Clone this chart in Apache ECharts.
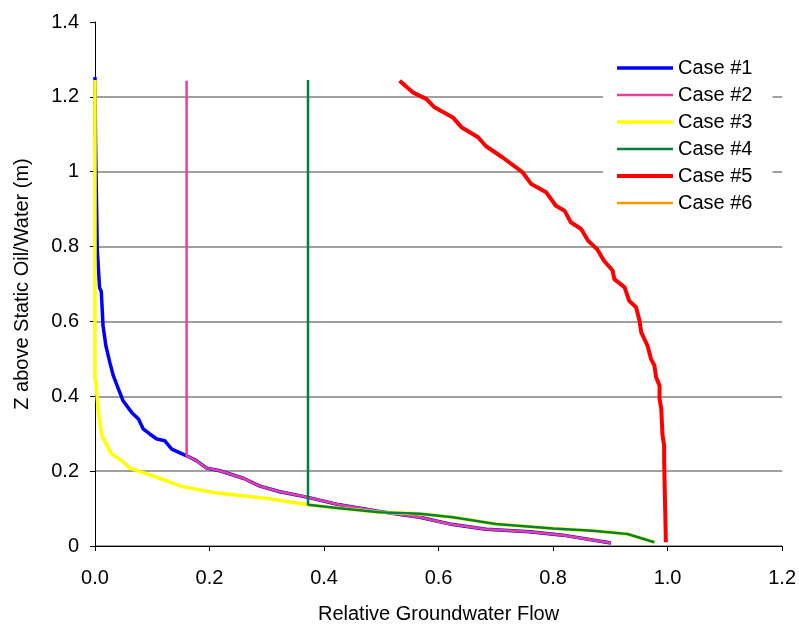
<!DOCTYPE html>
<html>
<head>
<meta charset="utf-8">
<script src="https://cdn.jsdelivr.net/npm/echarts@6/dist/echarts.min.js"></script>
<style>
html,body{margin:0;padding:0;background:#fff;}
#main{width:799px;height:629px;}
</style>
</head>
<body>
<div id="main"></div>
<script>
var names = ['Case #1','Case #2','Case #3','Case #4','Case #5','Case #6'];
var colors = ['#0000ff','#e8409a','#ffff00','#008040','#ff0000','#ff9900'];
var widths = [3.5,2.5,3.5,2.5,4,2.5];

// x = relative flow, y = height (m)
var case1X = [0.000,0.001,0.004,0.004,0.007,0.008,0.011,0.014,0.019,0.026,0.032,0.041,0.049,0.064,0.076,0.084,0.095,0.108,0.122,0.134,0.160,0.177,0.195,0.218,0.259,0.288,0.323,0.372,0.427,0.497,0.567,0.619,0.683,0.759,0.817,0.901];
var case1Y = [1.253,1.070,1.065,0.790,0.785,0.690,0.680,0.589,0.535,0.490,0.455,0.419,0.388,0.357,0.339,0.313,0.300,0.286,0.281,0.259,0.241,0.228,0.208,0.201,0.181,0.160,0.145,0.130,0.110,0.092,0.077,0.059,0.045,0.038,0.029,0.008];

var case2X = [0.160,0.160,0.177,0.195,0.218,0.259,0.288,0.323,0.372,0.427,0.497,0.567,0.619,0.683,0.759,0.817,0.901];
var case2Y = [1.243,0.241,0.228,0.208,0.201,0.181,0.160,0.145,0.130,0.110,0.092,0.077,0.059,0.045,0.038,0.029,0.008];

var case3X = [0.000,0.000,0.002,0.003,0.006,0.012,0.029,0.047,0.061,0.113,0.150,0.206,0.305,0.372,0.427,0.497,0.567,0.625,0.700,0.800,0.869,0.930,0.977];
var case3Y = [1.245,0.450,0.430,0.410,0.358,0.295,0.246,0.228,0.208,0.181,0.160,0.143,0.126,0.110,0.101,0.090,0.086,0.077,0.059,0.047,0.041,0.032,0.010];

var case4X = [0.372,0.372,0.427,0.497,0.567,0.625,0.700,0.800,0.869,0.930,0.977];
var case4Y = [1.245,0.110,0.101,0.090,0.086,0.077,0.059,0.047,0.041,0.032,0.010];

var case5X = [0.532,0.555,0.579,0.593,0.625,0.640,0.669,0.683,0.712,0.747,0.762,0.788,0.805,0.820,0.831,0.849,0.861,0.877,0.889,0.904,0.907,0.925,0.933,0.945,0.951,0.954,0.965,0.971,0.977,0.980,0.986,0.986,0.989,0.991,0.994,0.994,0.997];
var case5Y = [1.243,1.212,1.194,1.172,1.145,1.119,1.092,1.068,1.038,0.998,0.967,0.945,0.909,0.896,0.865,0.847,0.816,0.793,0.762,0.736,0.713,0.691,0.655,0.638,0.602,0.571,0.535,0.500,0.482,0.451,0.428,0.393,0.366,0.299,0.268,0.228,0.010];

// case 6 shows in the legend only
var case6X = [];
var case6Y = [];

var xs = [case1X,case2X,case3X,case4X,case5X,case6X];
var ys = [case1Y,case2Y,case3Y,case4Y,case5Y,case6Y];

function pairs(a,b){
	var out = [];
	for(var i=0;i<a.length;i++){
		out.push([a[i],b[i]]);
	}
	return out;
}

var series = [];
var legendData = [];
for(var i=0;i<names.length;i++){
	series.push({
		name:names[i],
		type:'line',
		data:pairs(xs[i],ys[i]),
		showSymbol:false,
		symbol:'none',
		animation:false,
		color:colors[i],
		lineStyle:{color:colors[i],width:widths[i]}
	});
	legendData.push({name:names[i],lineStyle:{color:colors[i],width:widths[i]}});
}

var font = 'Liberation Sans, Arial, sans-serif';
var myChart = echarts.init(document.getElementById('main'));
var option = {
	backgroundColor:'#fff',
	animation:false,
	grid:{left:95,right:16,top:22,bottom:82},
	legend:{
		orient:'vertical',
		left:603,
		top:54,
		itemWidth:56,
		itemHeight:14,
		itemGap:7,
		padding:[4,20,6,12],
		backgroundColor:'#fff',
		itemStyle:{opacity:0},
		textStyle:{fontFamily:font,fontSize:20,color:'#000'},
		data:legendData
	},
	xAxis:{
		type:'value',
		min:0,max:1.2,interval:0.2,
		name:'Relative Groundwater Flow',
		nameLocation:'middle',
		nameGap:58,
		nameTextStyle:{fontFamily:font,fontSize:20,color:'#000'},
		axisLine:{show:true,lineStyle:{color:'#000',width:1}},
		axisTick:{show:true,length:5,lineStyle:{color:'#000'}},
		axisLabel:{fontFamily:font,fontSize:20,color:'#000',margin:22,
			formatter:function(v){return v.toFixed(1);}},
		splitLine:{show:false}
	},
	yAxis:{
		type:'value',
		min:0,max:1.4,interval:0.2,
		name:'Z above Static Oil/Water (m)',
		nameLocation:'middle',
		nameGap:63,
		nameTextStyle:{fontFamily:font,fontSize:20,color:'#000'},
		axisLine:{show:true,lineStyle:{color:'#000',width:1}},
		axisTick:{show:true,length:5,lineStyle:{color:'#000'}},
		axisLabel:{fontFamily:font,fontSize:20,color:'#000',margin:16},
		splitLine:{show:true,showMaxLine:false,lineStyle:{color:'#808080',width:1.5}}
	},
	series:series
};
myChart.setOption(option);
</script>
</body>
</html>
